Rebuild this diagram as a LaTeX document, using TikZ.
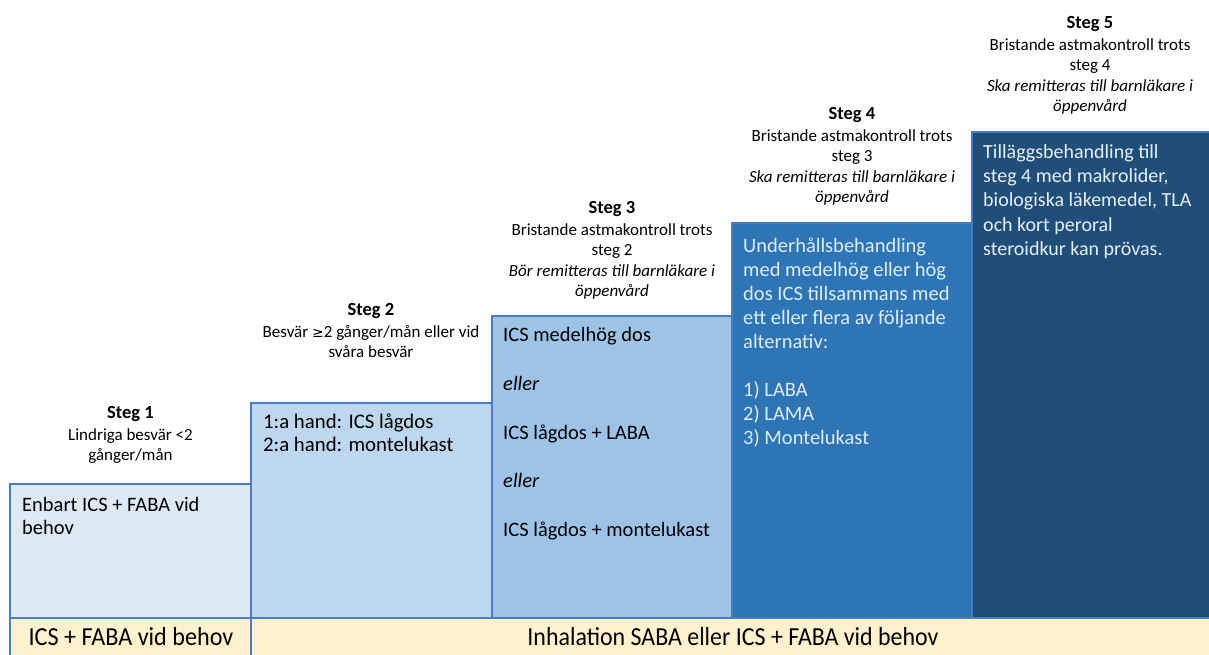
\documentclass[tikz,border=0pt]{standalone}
\usepackage{fontspec}
\setmainfont{Carlito}
\newfontfamily\symfont{DejaVu Sans}
\definecolor{bordc}{HTML}{4A7BC8}
\definecolor{fillA}{HTML}{DEE9F6}
\definecolor{fillB}{HTML}{BDD7EE}
\definecolor{fillC}{HTML}{9DC3E6}
\definecolor{fillD}{HTML}{2E75B6}
\definecolor{fillE}{HTML}{1F4E79}
\definecolor{fillY}{HTML}{FFF2CC}
\definecolor{txtD}{HTML}{DDEBF7}
\definecolor{txtE}{HTML}{E6EEF6}
\newcommand{\hd}[1]{{\fontsize{18.5}{20}\selectfont\bfseries\rule{0pt}{1em}#1}\\[1.5pt]}
\newcommand{\fs}{\rule{0pt}{1em}}
\begin{document}
\begin{tikzpicture}[x=1pt,y=-1pt,
  stepbox/.style={draw=bordc,line width=1.6pt},
  headtxt/.style={anchor=north,align=center,inner sep=0pt,font=\fontsize{17}{20.5}\selectfont},
  boxtxt/.style={anchor=north west,align=left,inner sep=0pt},
  bartxt/.style={anchor=base,inner sep=0pt,font=\fontsize{26}{30}\selectfont}]
\useasboundingbox (0,0) rectangle (1209,654);
% boxes
\path[stepbox,fill=fillA] (10,484) rectangle (251,618);
\path[stepbox,fill=fillB] (251,403) rectangle (492,618);
\path[stepbox,fill=fillC] (492,316) rectangle (732,618);
\path[stepbox,fill=fillD] (732,223) rectangle (972,618);
\path[stepbox,fill=fillE] (972,132) rectangle (1212,618);
\path[stepbox,fill=fillY] (10,618) rectangle (251,658);
\path[stepbox,fill=fillY] (251,618) rectangle (1212,658);
% bottom texts
\node[bartxt] (bar1) at (131,645) {\scalebox{0.93}[1]{ICS + FABA vid behov}};
\node[bartxt] (bar2) at (733,645) {\scalebox{0.92}[1]{Inhalation SABA eller ICS + FABA vid behov}};
% headings (north = first baseline - 18.5)
\node[headtxt] (h1) at (130.5,399.5) {\hd{Steg 1}Lindriga besvär <2\\gånger/mån};
\node[headtxt] (h2) at (371,296.5) {\hd{Steg 2}Besvär {\symfont\fontsize{14}{20}\selectfont ≥}2 gånger/mån eller vid\\svåra besvär};
\node[headtxt] (h3) at (612,194.5) {\hd{Steg 3}Bristande astmakontroll trots\\steg 2\\\textit{Bör remitteras till barnläkare i}\\\textit{öppenvård}};
\node[headtxt] (h4) at (852,100.5) {\hd{Steg 4}Bristande astmakontroll trots\\steg 3\\\textit{Ska remitteras till barnläkare i}\\\textit{öppenvård}};
\node[headtxt] (h5) at (1090,9.5) {\hd{Steg 5}Bristande astmakontroll trots\\steg 4\\\textit{Ska remitteras till barnläkare i}\\\textit{öppenvård}};
% box texts (north = first baseline - font size)
\node[boxtxt,font=\fontsize{20.5}{22.3}\selectfont] (t1) at (22,491.2) {\fs Enbart ICS + FABA vid\\behov};
\node[boxtxt,font=\fontsize{20.8}{23.3}\selectfont] (t2) at (263,407.5) {\fs 1:a hand: ICS lågdos\\2:a hand: montelukast};
\node[boxtxt,font=\fontsize{20.5}{24.3}\selectfont] (t3) at (503,321.2) {\fs ICS medelhög dos\\[24.3pt]\textit{eller}\\[24.3pt]ICS lågdos + LABA\\[24.3pt]\textit{eller}\\[24.3pt]ICS lågdos + montelukast};
\node[boxtxt,text=txtD,font=\fontsize{20.5}{24}\selectfont] (t4) at (743,231.8) {\fs Underhållsbehandling\\med medelhög eller hög\\dos ICS tillsammans med\\ett eller flera av följande\\alternativ:\\[24pt]1) LABA\\2) LAMA\\3) Montelukast};
\node[boxtxt,text=txtE,font=\fontsize{20}{24.2}\selectfont] (t5) at (983,138.3) {\fs Tilläggsbehandling till\\steg 4 med makrolider,\\biologiska läkemedel, TLA\\och kort peroral\\steroidkur kan prövas.};
\end{tikzpicture}
\end{document}
